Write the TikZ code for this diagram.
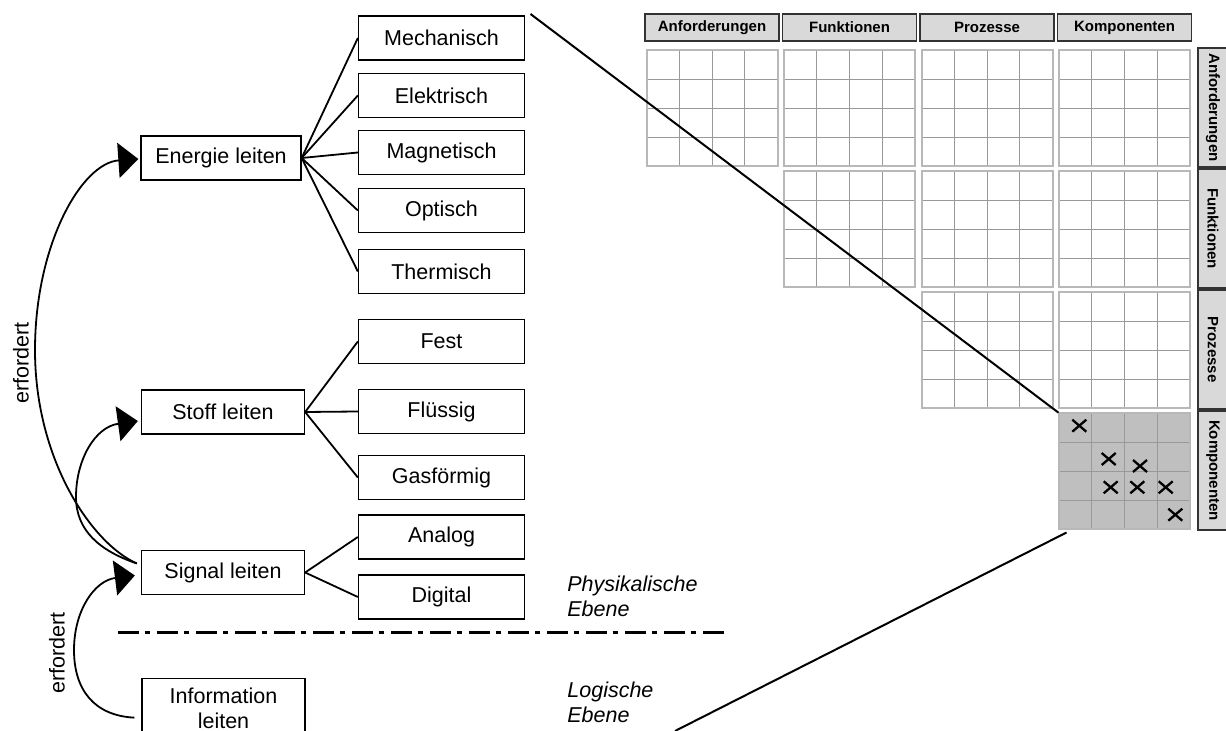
\documentclass[tikz,border=0pt]{standalone}
\usepackage{fontspec}
\setmainfont{Liberation Sans}
\usetikzlibrary{arrows.meta}
\tikzset{
  schrift/.style={font=\fontsize{10.75}{12.5}\selectfont},
  kasten/.style={schrift,draw,line width=0.65pt,minimum width=83pt,minimum height=22pt,inner sep=0pt},
  links/.style={kasten,minimum width=81.5pt},
  ast/.style={line width=0.9pt},
  erf/.style={line width=0.9pt,-{Triangle[length=10pt,width=17.5pt]}},
  kopf/.style={draw=black!80,fill=black!15,line width=0.75pt,minimum width=67pt,minimum height=13.5pt,inner sep=0pt,font=\fontsize{7.5}{9}\selectfont\bfseries},
  seite/.style={kopf,minimum width=59.5pt,minimum height=15pt},
  zelle/.style={draw=black!40,line width=0.5pt},
  rand/.style={draw=black!28,line width=1pt},
  kreuz/.style={line width=1.15pt},
  ebene/.style={schrift,font=\fontsize{10.75}{12.5}\selectfont\itshape,align=left,anchor=west,inner sep=0pt}
}
\begin{document}
\begin{tikzpicture}[x=0.5pt,y=-0.5pt]
	\useasboundingbox (0,0) rectangle (1226,731);
	\clip (0,0) rectangle (1226,731);
	\node[links,minimum width=80pt] (en) at (221,158) {Energie leiten};
	\node[links] (st) at (223,412) {Stoff leiten};
	\node[links] (si) at (223,572.5) {Signal leiten};
	\node[links,anchor=north,minimum height=29.5pt,align=center] (inf) at (223.5,678) {Information\\leiten};
	\node[kasten] (me) at (441.5,38) {Mechanisch};
	\node[kasten] (el) at (441.5,95.5) {Elektrisch};
	\node[kasten] (ma) at (441.5,152.5) {Magnetisch};
	\node[kasten] (op) at (441.5,210.5) {Optisch};
	\node[kasten] (th) at (441.5,271.5) {Thermisch};
	\node[kasten] (fe) at (441.5,341.5) {Fest};
	\node[kasten] (fl) at (441.5,411.5) {Flüssig};
	\node[kasten] (ga) at (441.5,477.5) {Gasförmig};
	\node[kasten] (an) at (441.5,537) {Analog};
	\node[kasten] (di) at (441.5,597) {Digital};
	\foreach \z in {me,el,ma,op,th} \draw[ast] (en.east) -- (\z.west);
	\foreach \z in {fe,fl,ga} \draw[ast] (st.east) -- (\z.west);
	\foreach \z in {an,di} \draw[ast] (si.east) -- (\z.west);
	\draw[erf] ([shift={(-4,-9)}]si.west) .. controls +(-45,-20) and +(0,110) .. (35,350) .. controls +(0,-105) and +(-57,4) .. ([shift={(-2,1)}]en.west);
	\draw[erf] ([shift={(-4,-9)}]si.west) .. controls +(-38,-13) and +(0,33) .. (76,497) .. controls +(0,-37) and +(-43,6) .. ([shift={(-3,9)}]st.west);
	\draw[erf] ([shift={(-7,9.5)}]inf.west) .. controls +(-40,-2) and +(0,40) .. (74,650) .. controls +(0,-40) and +(-40,5) .. ([shift={(-6,3)}]si.west);
	\node[schrift,rotate=90] (e1) at (21,363) {erfordert};
	\node[schrift,rotate=90] (e2) at (57,653) {erfordert};
	\draw[line width=1.5pt,dash pattern=on 10.5pt off 2.75pt on 2.5pt off 3.75pt] (118,633) -- (725,633);
	\node[ebene] (ph) at (567,596) {Physikalische\\Ebene};
	\node[ebene] (lo) at (567,702) {Logische\\Ebene};
	\node[kopf] (kA) at (712,27.5) {Anforderungen};
	\node[kopf] (kF) at (849.5,27.5) {Funktionen};
	\node[kopf] (kP) at (987,27.5) {Prozesse};
	\node[kopf] (kK) at (1124.5,27.5) {Komponenten};
	\node[seite,rotate=-90] (sA) at (1213,107.5) {Anforderungen};
	\node[seite,rotate=-90] (sF) at (1213,228.5) {Funktionen};
	\node[seite,rotate=-90] (sP) at (1213,349.5) {Prozesse};
	\node[seite,rotate=-90] (sK) at (1213,470.5) {Komponenten};
	\fill[black!25] (1059,413) rectangle ++(131,116.5);
	\foreach \i in {0,...,3}{
		\foreach \j in {0,...,\i}{
			\pgfmathsetmacro\bx{646.5+137.5*\i}
			\pgfmathsetmacro\by{50+121*\j}
			\foreach \k in {1,2,3}{
				\draw[zelle] (\bx+32.75*\k,\by) -- ++(0,116.5);
				\draw[zelle] (\bx,\by+29.125*\k) -- ++(131,0);
			}
			\draw[rand] (\bx,\by) rectangle ++(131,116.5);
		}
	}
	\foreach \x/\y in {1079.3/425.7,1108.7/459,1140/466,1110.7/487.3,1137.3/487.3,1165.7/487.3,1175.3/514.7}
		\draw[kreuz] (\x-7,\y-6) -- (\x+7,\y+6) (\x-7,\y+6) -- (\x+7,\y-6);
	\coordinate (m1) at (530.5,14);
	\coordinate (k1) at (1058.5,412.7);
	\coordinate (m2) at (675,731);
	\coordinate (k2) at (1066.5,532.5);
	\draw[line width=1pt] (m1) -- (k1);
	\draw[line width=1pt] (m2) -- (k2);
\end{tikzpicture}
\end{document}
